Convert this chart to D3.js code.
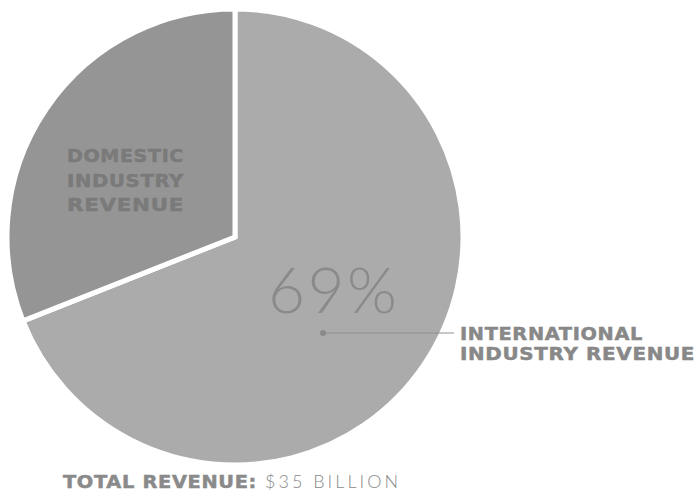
<!DOCTYPE html>
<html>
<head>
<meta charset="utf-8">
<script src="https://cdn.jsdelivr.net/npm/d3@7"></script>
<style>
  html, body { margin: 0; padding: 0; background: #ffffff; }
  svg { display: block; }
</style>
</head>
<body>
<svg id="chart" width="697" height="497"></svg>
<script>
// Revenue split, in percent of total
const segments = ["International Industry Revenue", "Domestic Industry Revenue"];
const shares = [69, 31];
const sliceColors = ["#ababab", "#959595"];
const bigLabel = "69%";
const domesticLines = ["DOMESTIC", "INDUSTRY", "REVENUE"];
const intlLines = ["INTERNATIONAL", "INDUSTRY REVENUE"];
const totalLabel = "TOTAL REVENUE:";
const totalValue = "$35 BILLION";

const svg = d3.select("#chart");
const cx = 235, cy = 237, r = 228;

const data = segments.map((s, i) => ({ name: s, value: shares[i], color: sliceColors[i] }));

const pie = d3.pie().sort(null).value(d => d.value);
const arc = d3.arc().innerRadius(0).outerRadius(r);
const arcs = pie(data);

const g = svg.append("g").attr("transform", `translate(${cx},${cy})`);

g.selectAll("path.slice")
  .data(arcs)
  .join("path")
  .attr("class", "slice")
  .attr("d", arc)
  .attr("fill", d => d.data.color)
  .attr("stroke", "#ffffff")
  .attr("stroke-width", 5)
  .attr("stroke-linejoin", "miter");

// Heavy, wide caption style shared by the bold labels
function heavy(sel, color) {
  return sel
    .attr("font-family", "'DejaVu Sans', sans-serif")
    .attr("font-weight", "bold")
    .attr("font-size", 18)
    .attr("letter-spacing", 0.6)
    .attr("lengthAdjust", "spacingAndGlyphs")
    .attr("fill", color)
    .attr("stroke", color)
    .attr("stroke-width", 0.5);
}

// Large percentage inside the international slice
svg.append("text")
  .attr("x", 268)
  .attr("y", 313)
  .attr("font-family", "Lato, 'Open Sans', sans-serif")
  .attr("font-weight", 300)
  .attr("font-size", 64)
  .attr("textLength", 129)
  .attr("lengthAdjust", "spacing")
  .attr("fill", "#8a8a8a")
  .text(bigLabel);

// Domestic label, three lines of equal width
svg.append("g")
  .selectAll("text")
  .data(domesticLines)
  .join("text")
  .attr("x", 67)
  .attr("y", (d, i) => 162 + i * 24.5)
  .call(heavy, "#7a7a7a")
  .attr("textLength", 117)
  .text(d => d);

// Leader from international slice to its label
const dotX = 323, lineY = 333, lineEnd = 454;
svg.append("line")
  .attr("x1", dotX).attr("x2", lineEnd)
  .attr("y1", lineY).attr("y2", lineY)
  .attr("stroke", "#8f8f8f")
  .attr("stroke-width", 1);
svg.append("circle")
  .attr("cx", dotX).attr("cy", lineY).attr("r", 3)
  .attr("fill", "#8a8a8a");

const intlWidths = [183, 235];
svg.append("g")
  .selectAll("text")
  .data(intlLines)
  .join("text")
  .attr("x", 460)
  .attr("y", (d, i) => 340 + i * 20)
  .call(heavy, "#888888")
  .attr("textLength", (d, i) => intlWidths[i])
  .text(d => d);

// Total footer
svg.append("text")
  .attr("x", 63).attr("y", 488)
  .call(heavy, "#8a8a8a")
  .attr("textLength", 194)
  .text(totalLabel);
svg.append("text")
  .attr("x", 265).attr("y", 488)
  .attr("font-family", "Lato, 'Open Sans', sans-serif")
  .attr("font-weight", 300)
  .attr("font-size", 18)
  .attr("textLength", 133)
  .attr("lengthAdjust", "spacing")
  .attr("fill", "#8a8a8a")
  .text(totalValue);
</script>
</body>
</html>
